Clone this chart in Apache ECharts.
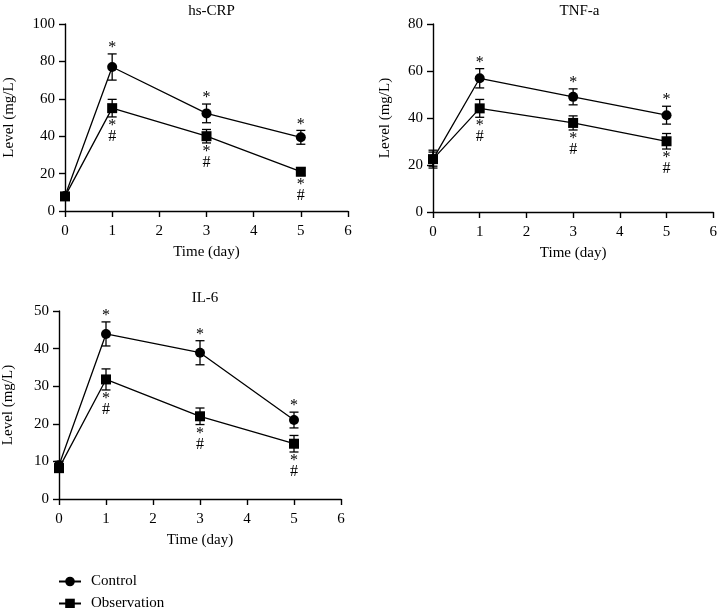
<!DOCTYPE html>
<html>
<head>
<meta charset="utf-8">
<script src="https://cdn.jsdelivr.net/npm/echarts@6/dist/echarts.min.js"></script>
<style>html,body{margin:0;padding:0;background:#fff;}#c{width:720px;height:608px;}</style>
</head>
<body>
<div id="c"></div>
<script>
const days = [0, 1, 3, 5];
const xTicks = [0, 1, 2, 3, 4, 5, 6];
const titles = ['hs-CRP', 'TNF-a', 'IL-6'];
const yMax = [100, 80, 50];
const yInterval = [20, 20, 10];

const crpControl = [8, 77, 52.2, 39.4];
const crpControlErr = [1, 7, 5, 3.7];
const crpObs = [7.8, 55, 40, 21];
const crpObsErr = [1, 4.7, 3.6, 2];

const tnfControl = [22.5, 56.9, 49, 41.2];
const tnfControlErr = [3, 4.1, 3.4, 3.8];
const tnfObs = [22.5, 44.1, 37.9, 30.1];
const tnfObsErr = [3.8, 3.8, 3, 3.3];

const il6Control = [9, 43.9, 38.9, 21];
const il6ControlErr = [1, 3.2, 3.2, 2.1];
const il6Obs = [8.2, 31.8, 22, 14.7];
const il6ObsErr = [1, 2.8, 2.2, 2.2];

const controlMarks = ['', '*', '*', '*'];
const obsMarks = ['', '*#', '*#', '*#'];

const groups = [
  [crpControl, crpControlErr, crpObs, crpObsErr],
  [tnfControl, tnfControlErr, tnfObs, tnfObsErr],
  [il6Control, il6ControlErr, il6Obs, il6ObsErr]
];

const FONT = 'Liberation Serif';
const chart = echarts.init(document.getElementById('c'));

const grids = [
  {left: 65, top: 24, width: 283, height: 187},
  {left: 433, top: 24, width: 283, height: 188},
  {left: 59, top: 311, width: 282, height: 188}
];
const nameGaps = [48, 40, 43];

const axisCommon = {
  axisLine: {show: true, lineStyle: {color: '#000', width: 1.4}},
  axisTick: {show: true, length: 6, lineStyle: {color: '#000', width: 1.4}},
  axisLabel: {color: '#000', fontFamily: FONT, fontSize: 15},
  splitLine: {show: false}
};

const xAxes = [], yAxes = [], series = [], titlesOpt = [];
grids.forEach((g, i) => {
  xAxes.push(Object.assign({}, axisCommon, {
    type: 'value', gridIndex: i, min: 0, max: 6, interval: 1,
    name: 'Time (day)', nameLocation: 'middle', nameGap: 34,
    nameTextStyle: {color: '#000', fontFamily: FONT, fontSize: 15},
    axisLabel: Object.assign({}, axisCommon.axisLabel, {margin: 13})
  }));
  yAxes.push(Object.assign({}, axisCommon, {
    type: 'value', gridIndex: i, min: 0, max: yMax[i], interval: yInterval[i],
    name: 'Level (mg/L)', nameLocation: 'middle', nameGap: nameGaps[i], nameRotate: 90,
    nameTextStyle: {color: '#000', fontFamily: FONT, fontSize: 15},
    axisLabel: Object.assign({}, axisCommon.axisLabel, {margin: 10})
  }));
  titlesOpt.push({
    text: titles[i], left: g.left + g.width / 2, textAlign: 'center',
    top: g.top - 25,
    textStyle: {color: '#000', fontFamily: FONT, fontSize: 15, fontWeight: 'normal'}
  });

  const [cm, ce, om, oe] = groups[i];
  const pairs = [[cm, ce, 'Control', 'circle'], [om, oe, 'Observation', 'rect']];
  pairs.forEach(([m, e, nm, sym]) => {
    series.push({
      type: 'custom', xAxisIndex: i, yAxisIndex: i, silent: true, z: 1,
      data: days.map((d, k) => [d, m[k] - e[k], m[k] + e[k]]),
      renderItem: (params, api) => {
        const lo = api.coord([api.value(0), api.value(1)]);
        const hi = api.coord([api.value(0), api.value(2)]);
        const hw = 4.5;
        const st = {stroke: '#000', lineWidth: 1.3};
        return {type: 'group', children: [
          {type: 'line', shape: {x1: lo[0], y1: lo[1], x2: hi[0], y2: hi[1]}, style: st},
          {type: 'line', shape: {x1: lo[0] - hw, y1: lo[1], x2: lo[0] + hw, y2: lo[1]}, style: st},
          {type: 'line', shape: {x1: hi[0] - hw, y1: hi[1], x2: hi[0] + hw, y2: hi[1]}, style: st}
        ]};
      }
    });
    series.push({
      type: 'line', name: nm, xAxisIndex: i, yAxisIndex: i, z: 3,
      data: days.map((d, k) => [d, m[k]]),
      symbol: sym, symbolSize: 10, showSymbol: true,
      lineStyle: {color: '#000', width: 1.3},
      itemStyle: {color: '#000'},
      animation: false
    });
  });
  // annotations
  series.push({
    type: 'custom', xAxisIndex: i, yAxisIndex: i, silent: true, z: 4,
    data: days.map((d, k) => [d, cm[k] + ce[k], om[k] - oe[k], k]),
    renderItem: (params, api) => {
      const k = api.value(3);
      const top = api.coord([api.value(0), api.value(1)]);
      const bot = api.coord([api.value(0), api.value(2)]);
      const children = [];
      const ts = {fill: '#000', font: '16px "' + FONT + '"', textAlign: 'center', textVerticalAlign: 'middle'};
      if (controlMarks[k]) {
        children.push({type: 'text', x: top[0], y: top[1] - 6, style: Object.assign({text: controlMarks[k]}, ts)});
      }
      if (obsMarks[k]) {
        const chars = obsMarks[k].split('');
        chars.forEach((ch) => {
          const dy = ch === '*' ? 9 : 20;
          children.push({type: 'text', x: bot[0], y: bot[1] + dy, style: Object.assign({text: ch}, ts)});
        });
      }
      return {type: 'group', children};
    }
  });
});

chart.setOption({
  animation: false,
  backgroundColor: '#fff',
  title: titlesOpt,
  grid: grids,
  xAxis: xAxes,
  yAxis: yAxes,
  legend: {
    data: ['Control', 'Observation'], orient: 'vertical', left: 58, top: 574, padding: 0,
    itemWidth: 22, itemHeight: 12, itemGap: 7, height: 40,
    textStyle: {color: '#000', fontFamily: FONT, fontSize: 15, padding: [0, 0, 0, 5]}
  },
  series
});
</script>
</body>
</html>
